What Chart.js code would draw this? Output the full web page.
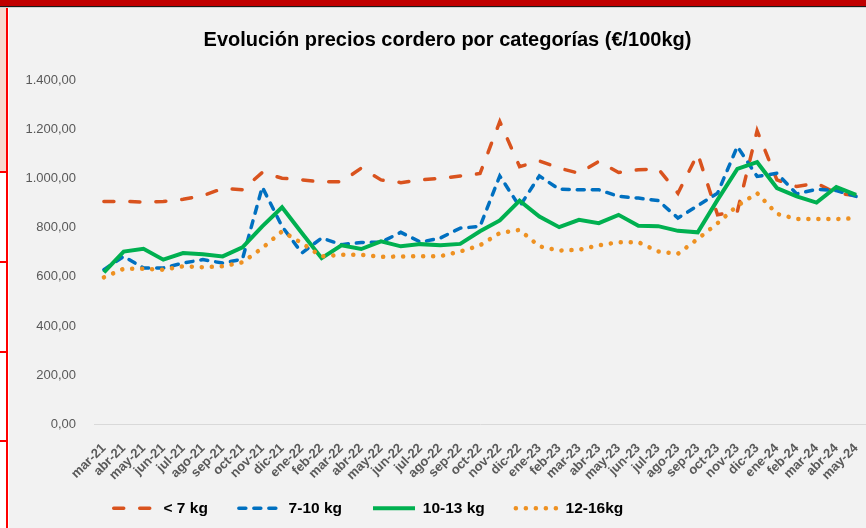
<html>
<head>
<meta charset="UTF-8">
<title>Evolución precios cordero</title>
<script src="https://cdn.jsdelivr.net/npm/chart.js@4.4.1/dist/chart.umd.min.js"></script>
<style>
  body { margin:0; background:#ffffff; width:866px; height:528px; overflow:hidden; position:relative; }
  .bar-top { position:absolute; left:0; top:0; width:866px; height:6px; background:#c00000; }
  .bar-black { position:absolute; left:0; top:6px; width:866px; height:1px; background:#1a1a1a; }
  .bar-gray { position:absolute; left:0; top:7px; width:866px; height:1px; background:#d0d0d0; }
  .cell-pink { position:absolute; left:0; top:8px; width:6px; height:164px; background:#f8d9cf; }
  .vline { position:absolute; left:6px; top:8px; width:2px; height:520px; background:#ff0000; }
  .tick { position:absolute; left:0; width:8px; height:2px; background:#ff0000; }
  .wrap { position:absolute; left:9px; top:8px; width:857px; height:520px; background:#f2f2f2; overflow:hidden; }
</style>
</head>
<body>
<div class="bar-top"></div>
<div class="bar-black"></div>
<div class="bar-gray"></div>
<div class="cell-pink"></div>
<div class="vline"></div>
<div class="tick" style="top:171px"></div>
<div class="tick" style="top:261px"></div>
<div class="tick" style="top:351px"></div>
<div class="tick" style="top:440px"></div>
<div class="wrap"><canvas id="precios" width="857" height="520"></canvas></div>

<script>
// meses mar-21 .. may-24
var meses = ['mar-21','abr-21','may-21','jun-21','jul-21','ago-21','sep-21','oct-21','nov-21','dic-21',
  'ene-22','feb-22','mar-22','abr-22','may-22','jun-22','jul-22','ago-22','sep-22','oct-22','nov-22','dic-22',
  'ene-23','feb-23','mar-23','abr-23','may-23','jun-23','jul-23','ago-23','sep-23','oct-23','nov-23','dic-23',
  'ene-24','feb-24','mar-24','abr-24','may-24'];

var menos7 = [906,907,904,906,915,930,959,954,1024,1001,
  994,986,986,1042,994,983,994,1000,1010,1020,1231,1048,
  1071,1042,1021,1069,1024,1035,1039,940,1100,852,866,1194,
  994,967,981,940,930];

var de7a10 = [629,683,636,636,656,670,656,672,965,805,
  697,758,731,740,741,781,741,758,798,805,1010,886,
  1010,956,954,954,927,920,910,839,889,940,1130,1008,
  1021,937,956,951,927];

var de10a13 = [618,703,714,670,697,692,683,720,805,883,
  778,676,728,713,744,724,733,728,734,785,829,910,
  845,802,832,818,852,808,806,787,781,913,1039,1066,
  961,927,902,965,933];

var de12a16 = [598,633,633,629,643,639,643,659,717,785,
  737,683,690,690,681,683,684,684,703,728,778,791,
  724,707,710,728,741,741,703,694,754,818,889,940,
  856,835,835,835,838];

var nombres = ['< 7 kg', '7-10 kg', '10-13 kg', '12-16kg'];

function formatoES(v) {
  var partes = v.toFixed(2).split('.');
  var ent = partes[0].replace(/\B(?=(\d{3})+(?!\d))/g, '.');
  return ent + ',' + partes[1];
}

// move title / legend a bit, like the excel layout
var ajuste = {
  id: 'ajuste',
  afterLayout: function(chart) {
    chart.titleBlock.left += 10;
    chart.titleBlock.right += 10;
    chart.legend.left -= 69;
    chart.legend.right -= 69;
    chart.legend.top -= 17;
    chart.legend.bottom -= 17;
  }
};

var ctx = document.getElementById('precios').getContext('2d');
var grafico = new Chart(ctx, {
  type: 'line',
  data: {
    labels: meses,
    datasets: [
      { label: nombres[0], data: menos7, borderColor: '#d9531e', backgroundColor: '#d9531e',
        borderWidth: 3.5, borderDash: [10, 16], borderCapStyle: 'round', order: 3 },
      { label: nombres[1], data: de7a10, borderColor: '#0070c0', backgroundColor: '#0070c0',
        borderWidth: 3.5, borderDash: [7, 8], borderCapStyle: 'round', order: 2 },
      { label: nombres[2], data: de10a13, borderColor: '#00b050', backgroundColor: '#00b050',
        borderWidth: 4, order: 1 },
      { label: nombres[3], data: de12a16, borderColor: '#ee9122', backgroundColor: '#ee9122',
        borderWidth: 4.5, borderDash: [0.1, 9.9], borderCapStyle: 'round', order: 0 }
    ]
  },
  options: {
    responsive: false,
    animation: false,
    events: [],
    elements: { point: { radius: 0 }, line: { tension: 0 } },
    layout: { padding: { left: 0, right: 0, top: 0, bottom: -15 } },
    plugins: {
      title: {
        display: true,
        text: 'Evolución precios cordero por categorías (€/100kg)',
        color: '#000000',
        font: { family: 'Liberation Sans', size: 20, weight: 'bold' },
        padding: { top: 20, bottom: 28 }
      },
      legend: {
        position: 'bottom',
        labels: {
          usePointStyle: true,
          pointStyle: 'line',
          pointStyleWidth: 42,
          padding: 31,
          color: '#000000',
          font: { family: 'Liberation Sans', size: 15.5, weight: 'bold' },
          generateLabels: function(chart) {
            return chart.data.datasets.map(function(ds, i) {
              return {
                text: ds.label,
                datasetIndex: i,
                fillStyle: ds.borderColor,
                strokeStyle: ds.borderColor,
                lineWidth: ds.borderWidth,
                lineDash: ds.borderDash || [],
                lineCap: ds.borderCapStyle || 'butt',
                pointStyle: 'line',
                fontColor: '#000000',
                hidden: false
              };
            });
          }
        }
      },
      tooltip: { enabled: false }
    },
    scales: {
      x: {
        offset: true,
        afterFit: function(scale) {
          scale.height = 62;
          scale.paddingRight = 0;
        },
        grid: { display: false },
        border: { display: true, color: '#d9d9d9', width: 1 },
        ticks: {
          autoSkip: false,
          minRotation: 45,
          maxRotation: 45,
          padding: 8,
          color: '#595959',
          font: { family: 'Liberation Sans', size: 13, weight: 'bold' }
        }
      },
      y: {
        min: 0,
        max: 1400,
        afterFit: function(scale) { scale.width = 85; },
        grid: { display: false },
        border: { display: false },
        ticks: {
          stepSize: 200,
          padding: 10,
          color: '#595959',
          font: { family: 'Liberation Sans', size: 13 },
          callback: function(v) { return formatoES(v); }
        }
      }
    }
  },
  plugins: [ajuste]
});
</script>
</body>
</html>
